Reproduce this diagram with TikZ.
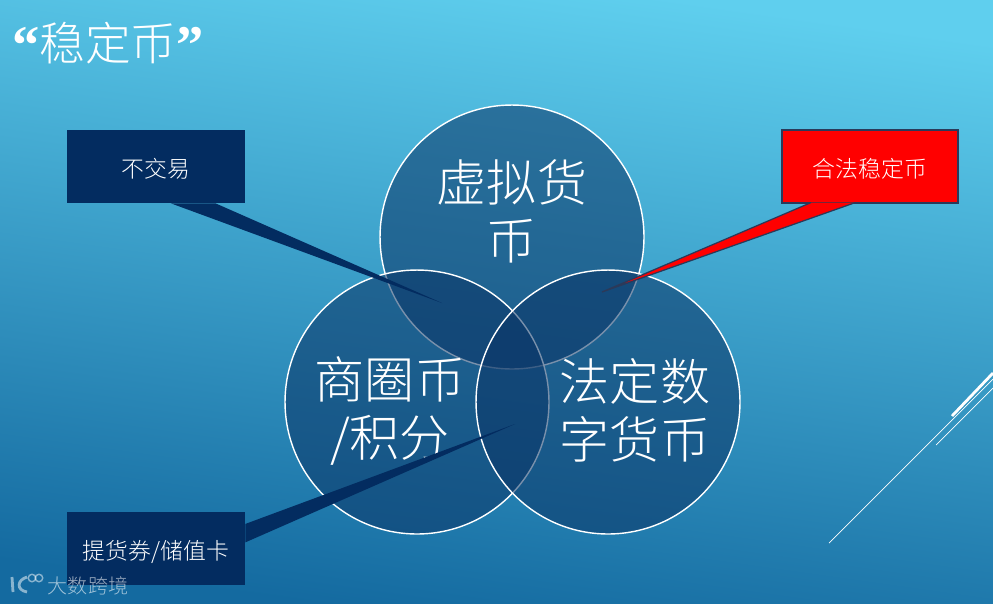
\documentclass[tikz,border=0pt]{standalone}
\usepackage{fontspec}
\setmainfont{Noto Sans CJK SC Light}
\newfontfamily\quotefont{Liberation Serif}
\usetikzlibrary{calc}

\definecolor{skytop}{HTML}{5FCFEE}
\definecolor{skybottom}{HTML}{146AA0}
\definecolor{coinblue}{HTML}{0B3566}
\definecolor{calloutblue}{HTML}{032C60}
\definecolor{calloutline}{HTML}{2A3A5A}

\begin{document}
\begin{tikzpicture}[
  x=0.02cm,
  y=-0.02cm,
  coin/.style={
    circle,
    draw=white,
    line width=0.8pt,
    fill=coinblue,
    fill opacity=0.55,
    minimum size=5.28cm,
    inner sep=0pt
  },
  cointext/.style={
    align=center,
    text=white,
    font=\fontsize{28.5}{33}\selectfont
  },
  callout/.style={
    fill=calloutblue,
    text=white,
    align=center,
    minimum width=3.56cm,
    minimum height=1.46cm,
    inner sep=0pt,
    text height=14pt,
    text depth=2pt,
    font=\fontsize{13}{15}\selectfont
  },
  wedge/.style={fill=calloutblue},
  redcallout/.style={
    callout,
    fill=red,
    draw=calloutline,
    line width=0.7pt,
    minimum width=3.52cm
  },
  redwedge/.style={fill=red, draw=calloutline, line width=0.7pt},
  deco/.style={draw=white, line width=0.4pt}
]

% --------------------
% Background
% --------------------
\useasboundingbox (0,0) rectangle (993,603);
\shade[top color=skytop, bottom color=skybottom, shading angle=-8]
  (0,0) rectangle (993,603);

% --------------------
% Decoration lines
% --------------------
\coordinate (thickstart) at (952,416);
\coordinate (thickend) at (993,373);
\coordinate (longstart) at (829,543);
\coordinate (longend) at (993,379);
\coordinate (shortstart) at (936,445);
\coordinate (shortend) at (993,388);
\draw[deco, line width=1.6pt] (thickstart) -- (thickend);
\draw[deco] (longstart) -- (longend);
\draw[deco] (shortstart) -- (shortend);

% --------------------
% Title
% --------------------
\node[text=white, inner sep=0pt, anchor=center,
      font=\fontsize{26}{30}\selectfont] (title) at (108,43)
  {\raisebox{-2pt}{\fontsize{31}{31}\bfseries\quotefont “}稳定币\raisebox{-2pt}{\fontsize{31}{31}\bfseries\quotefont ”}};

% --------------------
% Circles
% --------------------
\node[coin] (virtual) at (512,237) {};
\node[coin] (mall) at (417,402) {};
\node[coin] (legal) at (608,402) {};

\node[cointext] (virtualtext) at (512,211) {虚拟货\\币};
\node[cointext] (malltext) at (390,411) {商圈币\\/积分};
\node[cointext] (legaltext) at (635,410) {法定数\\字货币};

% --------------------
% Callouts
% --------------------
\coordinate (notradetip) at (442,303);
\coordinate (vouchertip) at (515,424);
\coordinate (stabletip) at (602,292);

\node[callout] (notrade) at (156,166.5) {不交易};
\fill[wedge] ($(notrade.south west)!7/12!(notrade.south east)$)
  -- (notradetip)
  -- ($(notrade.south west)!10/12!(notrade.south east)$) -- cycle;

\node[callout] (voucher) at (156,548.5) {提货券/储值卡};
\fill[wedge] ($(voucher.north east)!2/12!(voucher.south east)$)
  -- (vouchertip)
  -- ($(voucher.north east)!5/12!(voucher.south east)$) -- cycle;

\node[redcallout] (stable) at (870,166.5) {合法稳定币};
\filldraw[redwedge] ($(stable.south west)!2/12!(stable.south east)+(0,-1)$)
  -- (stabletip)
  -- ($(stable.south west)!5/12!(stable.south east)+(0,-1)$);

% --------------------
% Watermark
% --------------------
\node[text=white, text opacity=0.6, inner sep=0pt,
      font=\fontsize{11.4}{13}\selectfont] (brand) at (88,586) {大数跨境};
\draw[white, opacity=0.5, line width=1.6pt] (12,577) -- (13,592);
\draw[white, opacity=0.5, line width=1.6pt] (27,577) .. controls (17,580) and (16,590) .. (27,592);
\node[circle, draw=white, draw opacity=0.5, line width=0.8pt, minimum size=0.15cm,
      inner sep=0pt] (ringa) at (32,578) {};
\node[circle, draw=white, draw opacity=0.5, line width=0.8pt, minimum size=0.15cm,
      inner sep=0pt] (ringb) at (39,578) {};

\end{tikzpicture}
\end{document}
